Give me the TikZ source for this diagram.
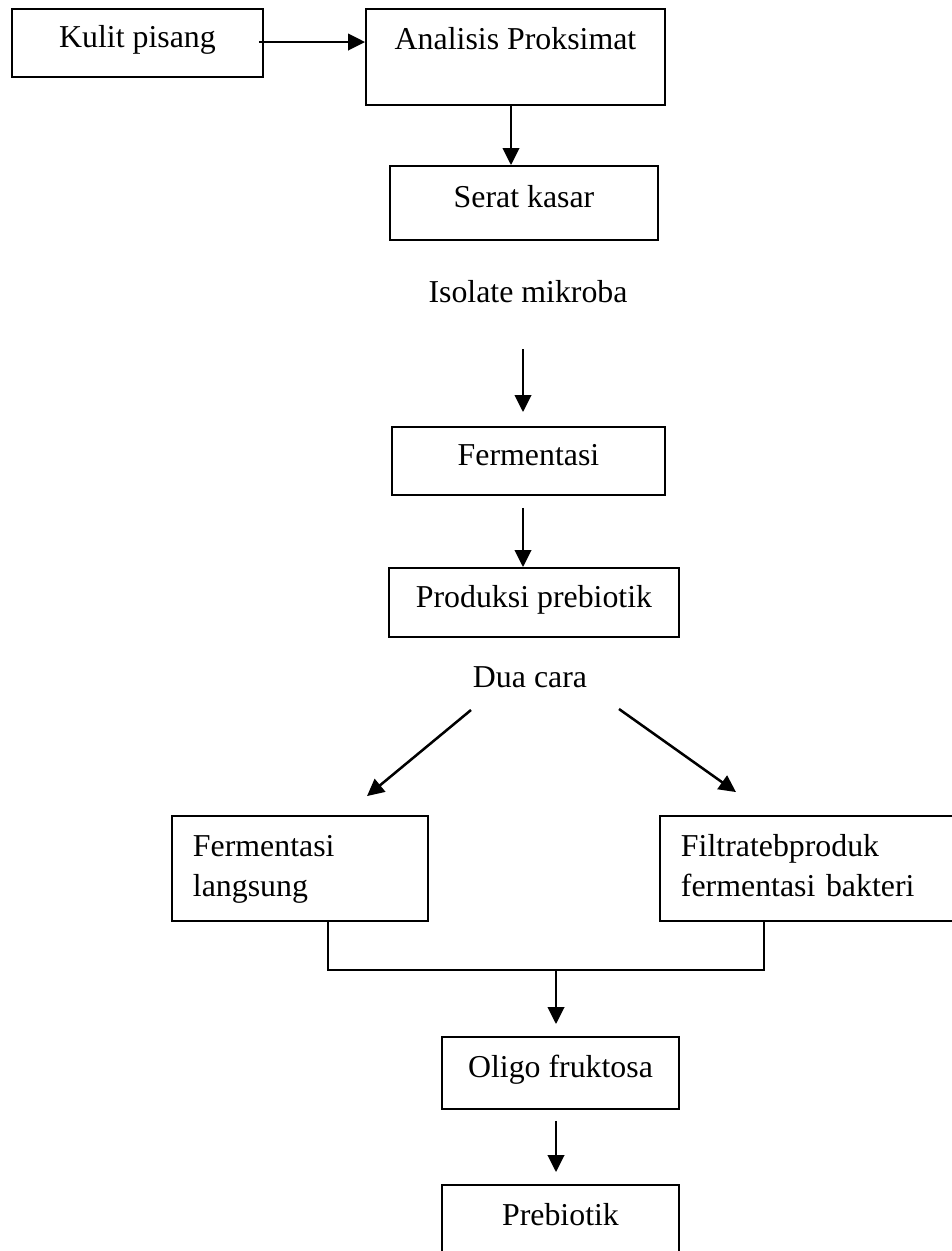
\documentclass[tikz,border=0pt]{standalone}
\usepackage{fontspec}
\setmainfont{Liberation Serif}
\usetikzlibrary{arrows.meta, calc}
\newcommand{\pxu}{0.3768pt}

\begin{document}
\begin{tikzpicture}[x=0.3768pt, y=-0.3768pt,
    font=\fontsize{12pt}{15.07pt}\selectfont,
    kotak/.style 2 args={draw, line width=0.7pt, inner sep=0pt,
        minimum width=#1*\pxu, minimum height=#2*\pxu,
        text height=7.5pt, text depth=4pt},
    keterangan/.style={inner sep=0pt, text height=7.5pt, text depth=4pt},
    duabaris/.style={draw, line width=0.7pt, inner ysep=0pt, inner xsep=21*\pxu,
        text width=#1, minimum height=105*\pxu, align=left},
    panah/.style={-{Triangle[length=6.4pt, width=6.2pt]}, line width=0.95pt},
    garis/.style={line width=0.75pt}]
            % page frame, the page cuts the last boxes
            \useasboundingbox (0,0) rectangle (952,1251);
            \clip (0,0) rectangle (952,1251);

            % Top row
            \node[kotak={251}{68}] (kulit) at (137.5,43) {Kulit pisang};
            \node[kotak={299}{96}, text depth=12.8pt] (analisis) at (515.5,57) {Analisis Proksimat};
            \node[kotak={268}{74}] (serat) at (524,203) {Serat kasar};

            % Middle column
            \node[keterangan] (isolate) at (528,297.4) {Isolate mikroba};
            \node[kotak={273}{68}] (fermentasi) at (528.5,461) {Fermentasi};
            \node[kotak={290}{69}] (produksi) at (534,602.5) {Produksi prebiotik};
            \node[keterangan] (dua) at (530,682.4) {Dua cara};

            % Two ways
            \node[duabaris=80.64pt] (langsung) at (300,868.5) {\strut Fermentasi\\ \strut langsung};
            \node[duabaris=102.87pt] (filtrate) at (817.5,868.5) {\strut Filtratebproduk\\ \strut fermentasi bakteri};

            % Bottom column
            \node[kotak={237}{72}] (oligo) at (560.5,1073) {Oligo fruktosa};
            \node[kotak={237}{72}] (prebiotik) at (560.5,1221) {Prebiotik};

            % Arrows
            \draw[panah] ($(kulit.east)+(-5,-1)$) -- ($(kulit.east -| analisis.west)+(0,-1)$);
            \draw[panah] ($(analisis.south)+(-4.5,0)$) -- ($(serat.north)+(-13,0)$);
            \draw[panah] ($(isolate.center)+(-5,51.6)$) -- ($(fermentasi.north)+(-5.5,-14)$);
            \draw[panah] ($(fermentasi.south)+(-5.5,12)$) -- ($(produksi.north)+(-11,0)$);
            \draw[panah] ($(dua.center)+(-59,27.6)$) -- ($(langsung.north)+(67,-19)$);
            \draw[panah] ($(dua.center)+(89,26.6)$) -- ($(filtrate.north)+(-81.5,-23)$);

            % Joining line
            \coordinate (gabung) at ($(oligo.north)+(-4.5,-66)$);
            \draw[garis] ($(langsung.south)+(28,0)$) |- (gabung) -| ($(filtrate.south)+(-53.5,0)$);
            \draw[panah] (gabung) -- ($(oligo.north)+(-4.5,-12)$);
            \draw[panah] ($(oligo.south)+(-4.5,11)$) -- ($(prebiotik.north)+(-4.5,-12)$);
\end{tikzpicture}
\end{document}
